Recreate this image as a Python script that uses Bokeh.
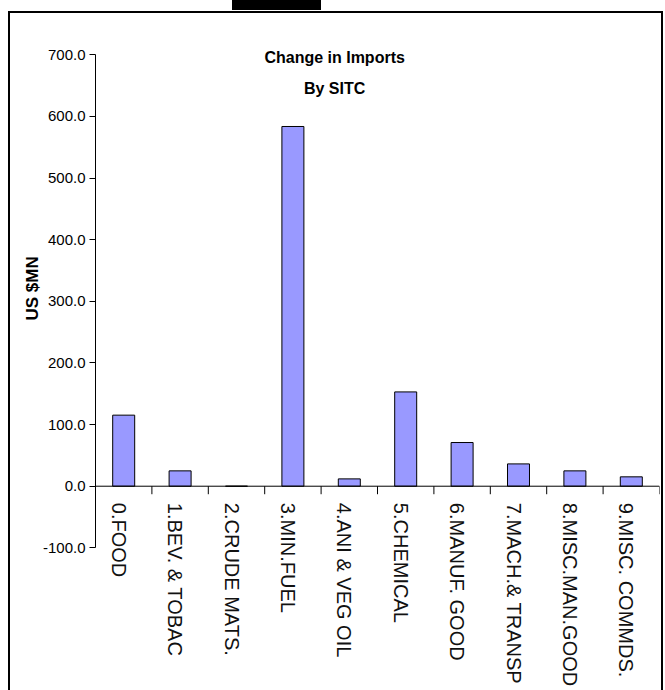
import math
from bokeh.plotting import figure
from bokeh.models import (Range1d, FactorRange, NumeralTickFormatter, FixedTicker,
                          Label, Span, Title, InlineStyleSheet)
from bokeh.embed import file_html
from bokeh.resources import INLINE
from bokeh.core.properties import value

categories = ["0.FOOD", "1.BEV. & TOBAC", "2.CRUDE MATS.", "3.MIN.FUEL",
              "4.ANI & VEG OIL", "5.CHEMICAL", "6.MANUF. GOOD",
              "7.MACH.& TRANSP", "8.MISC.MAN.GOOD", "9.MISC. COMMDS."]
values = [115.3, 24.9, 0.0, 583.7, 11.9, 153.0, 70.9, 36.2, 24.9, 15.2]
y_ticks = [-100, 0, 100, 200, 300, 400, 500, 600, 700]
title_lines = ["Change in Imports", "By SITC"]
y_label = "US $MN"

FONT = "Liberation Sans"

p = figure(x_range=FactorRange(factors=categories), y_range=Range1d(-331.5, 755.7),
           width=665, height=690, output_backend="svg", toolbar_location=None,
           min_border_left=95, min_border_right=6, min_border_top=20,
           min_border_bottom=0)
p.outline_line_color = None
p.grid.visible = False
p.background_fill_color = "white"
p.border_fill_color = "white"
p.xaxis.visible = False

p.vbar(x=categories, top=values, bottom=0, width=0.39,
       fill_color="#9999FF", line_color="black", line_width=1)

# zero line (category axis crossing at 0)
p.add_layout(Span(location=0, dimension="width", line_color="black", line_width=1))

# category boundary ticks under the zero line
bx = list(range(len(categories) + 1))
p.segment(x0=bx, y0=[0] * len(bx), x1=bx, y1=[-13] * len(bx),
          line_color="black", line_width=1)

# category labels, reading top to bottom
p.text(x=categories, y=[-27] * len(categories), text=categories,
       angle=-math.pi / 2, text_align="left", text_baseline="middle",
       x_offset=-5, text_font=value(FONT), text_font_size="20px",
       text_color="#111111")

ya = p.yaxis[0]
ya.ticker = FixedTicker(ticks=y_ticks)
ya.formatter = NumeralTickFormatter(format="0.0")
ya.bounds = (y_ticks[0], y_ticks[-1])
ya.major_tick_out = 6
ya.major_tick_in = 0
ya.minor_tick_line_color = None
ya.major_label_standoff = 4
ya.major_label_text_font = FONT
ya.major_label_text_font_size = "15px"
ya.major_label_text_color = "black"
ya.axis_line_color = "black"
ya.major_tick_line_color = "black"

# axis title on the left side
p.add_layout(Title(text=y_label, align="left", offset=370,
                   text_font=FONT, text_font_style="bold",
                   text_font_size="17px", text_color="black",
                   standoff=-5), "left")

for txt, yv in zip(title_lines, [695, 646]):
    p.add_layout(Label(x=4.24, y=yv, text=txt, text_align="center",
                       text_baseline="middle", text_font=FONT,
                       text_font_style="bold", text_font_size="16px",
                       text_color="black"))

css = """
:host { position: relative; overflow: visible; }
:host::before { content: ""; position: absolute; left: 232px; top: 0px;
  width: 89px; height: 10px; background: black; z-index: 10; }
:host::after { content: ""; position: absolute; left: 8px; top: 11px;
  width: 651px; height: 679px; border: 2px solid black; border-bottom: none;
  pointer-events: none; z-index: 10; }
"""
p.stylesheets = [InlineStyleSheet(css=css)]

open("out.html", "w").write(file_html(p, INLINE))
